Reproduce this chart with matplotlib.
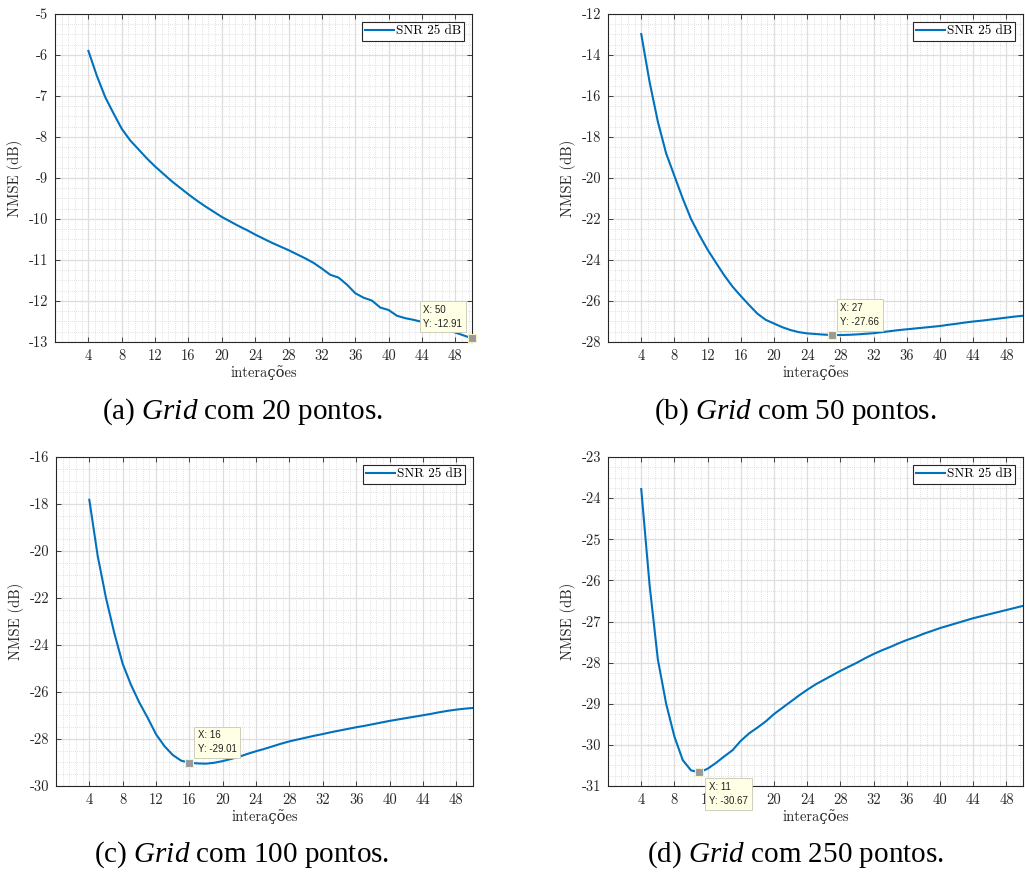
import matplotlib
matplotlib.use("Agg")
import matplotlib.pyplot as plt
from matplotlib.ticker import MultipleLocator

plt.rcParams["font.family"] = ["cmr10", "DejaVu Serif"]
plt.rcParams["axes.unicode_minus"] = False
plt.rcParams["mathtext.fontset"] = "custom"
plt.rcParams["mathtext.rm"] = "Liberation Serif"
plt.rcParams["mathtext.it"] = "Liberation Serif:italic"

iteracoes = list(range(4, 51))

nmse_20 = [-5.90, -6.50, -7.02, -7.42, -7.80, -8.08, -8.30, -8.52, -8.72, -8.90,
           -9.08, -9.24, -9.40, -9.55, -9.69, -9.82, -9.95, -10.06, -10.17, -10.27,
           -10.38, -10.48, -10.58, -10.67, -10.76, -10.86, -10.96, -11.07, -11.21, -11.36,
           -11.43, -11.60, -11.81, -11.92, -11.99, -12.16, -12.22, -12.36, -12.42, -12.46,
           -12.51, -12.56, -12.63, -12.70, -12.77, -12.84, -12.91]

nmse_50 = [-12.98, -15.30, -17.25, -18.80, -19.90, -21.00, -22.00, -22.78, -23.50, -24.13,
           -24.75, -25.30, -25.76, -26.20, -26.62, -26.92, -27.10, -27.28, -27.42, -27.52,
           -27.58, -27.61, -27.64, -27.66, -27.66, -27.65, -27.63, -27.60, -27.57, -27.52,
           -27.47, -27.42, -27.38, -27.34, -27.30, -27.26, -27.22, -27.16, -27.11, -27.05,
           -27.00, -26.96, -26.91, -26.86, -26.81, -26.76, -26.72]

nmse_100 = [-17.82, -20.20, -22.00, -23.50, -24.80, -25.70, -26.45, -27.10, -27.80, -28.30,
            -28.68, -28.92, -29.01, -29.04, -29.05, -29.01, -28.94, -28.85, -28.75, -28.63,
            -28.52, -28.42, -28.31, -28.20, -28.10, -28.02, -27.94, -27.86, -27.79, -27.71,
            -27.64, -27.57, -27.50, -27.44, -27.37, -27.30, -27.23, -27.17, -27.11, -27.05,
            -26.99, -26.93, -26.86, -26.80, -26.75, -26.71, -26.68]

nmse_250 = [-23.78, -26.10, -27.92, -29.00, -29.80, -30.37, -30.62, -30.67, -30.58, -30.44,
            -30.28, -30.13, -29.90, -29.72, -29.58, -29.43, -29.25, -29.10, -28.95, -28.80,
            -28.66, -28.53, -28.42, -28.31, -28.20, -28.10, -28.00, -27.89, -27.79, -27.70,
            -27.62, -27.53, -27.45, -27.38, -27.30, -27.23, -27.16, -27.10, -27.04, -26.98,
            -26.92, -26.87, -26.82, -26.77, -26.72, -26.67, -26.62]

# datatips (x, y) marcados em cada grafico
tip_x = [50, 27, 16, 11]
tip_y = [-12.91, -27.66, -29.01, -30.67]

legenda = "SNR 25 dB"
legendas_fig = ["(a) $\\mathit{Grid}$ com 20 pontos.",
                "(b) $\\mathit{Grid}$ com 50 pontos.",
                "(c) $\\mathit{Grid}$ com 100 pontos.",
                "(d) $\\mathit{Grid}$ com 250 pontos."]

ylims = [(-13, -5), (-28, -12), (-30, -16), (-31, -23)]
ysteps = [1, 2, 2, 1]

COR_LINHA = "#0072BD"
COR_EIXO = "#262626"


def desenha(ax, y, ylim, ystep, tx, ty, tip_off, tip_align):
    ax.plot(iteracoes, y, color=COR_LINHA, linewidth=1.5, label=legenda, zorder=3)

    ax.set_xlim(0, 50)
    ax.set_ylim(*ylim)
    ax.set_xticks(range(4, 49, 4))
    ax.yaxis.set_major_locator(MultipleLocator(ystep))
    ax.xaxis.set_minor_locator(MultipleLocator(0.8))
    ax.yaxis.set_minor_locator(MultipleLocator(ystep / 4))

    ax.set_axisbelow(True)
    ax.grid(which="major", color="#dedede", linewidth=0.9)
    ax.grid(which="minor", color="#c8c8c8", linewidth=0.5, linestyle=(0, (1, 2)))

    ax.tick_params(which="major", direction="in", top=True, right=True,
                   length=3.5, width=0.6, color=COR_EIXO, labelcolor=COR_EIXO,
                   labelsize=10.5, pad=5)
    ax.tick_params(which="minor", length=0)
    for s in ax.spines.values():
        s.set_color(COR_EIXO)
        s.set_linewidth(0.8)

    ax.set_xlabel("interações", fontsize=10.5, color=COR_EIXO, labelpad=2)
    ax.set_ylabel("NMSE (dB)", fontsize=10.5, color=COR_EIXO, labelpad=4)

    leg = ax.legend(loc="upper right", fancybox=False, framealpha=1,
                    edgecolor=COR_EIXO, fontsize=9.5, handlelength=2.2,
                    handletextpad=0.1, borderpad=0.25, borderaxespad=0.6)
    leg.get_frame().set_linewidth(0.8)

    # datatip
    ax.plot([tx], [ty], marker="s", markersize=6, markerfacecolor="#9a9a9a",
            markeredgecolor="#f2f2c8", markeredgewidth=0.8, clip_on=False, zorder=6)
    ax.annotate("X: %d\nY: %.2f" % (tx, ty), xy=(tx, ty), xytext=tip_off,
                textcoords="offset points", ha=tip_align[0], va=tip_align[1],
                multialignment="left",
                fontsize=7, family="Liberation Sans", color="#222222",
                linespacing=1.5, annotation_clip=False, zorder=5,
                bbox=dict(boxstyle="square,pad=0.4", fc="#ffffe6", ec="#c8c8b4", lw=0.6))


fig = plt.figure(figsize=(10.25, 8.74), dpi=100)
fig.patch.set_facecolor("white")

posicoes = [[0.0537, 0.6087, 0.4068, 0.3753],
            [0.5932, 0.6087, 0.4049, 0.3753],
            [0.0546, 0.1007, 0.4068, 0.3764],
            [0.5932, 0.1007, 0.4049, 0.3764]]
series = [nmse_20, nmse_50, nmse_100, nmse_250]
offsets = [(-7, 7), (6, 6), (6, 6), (7, -7)]
aligns = [("right", "bottom"), ("left", "bottom"), ("left", "bottom"), ("left", "top")]

for i in range(4):
    ax = fig.add_axes(posicoes[i])
    desenha(ax, series[i], ylims[i], ysteps[i], tip_x[i], tip_y[i], offsets[i], aligns[i])

cap_x = [242 / 1025, 795 / 1025, 242 / 1025, 795 / 1025]
cap_y = [1 - 412 / 874, 1 - 412 / 874, 1 - 855 / 874, 1 - 855 / 874]
for i in range(4):
    fig.text(cap_x[i], cap_y[i], legendas_fig[i], ha="center", va="center",
             fontsize=21, family="Liberation Serif")

fig.savefig("out.png", dpi=100)
